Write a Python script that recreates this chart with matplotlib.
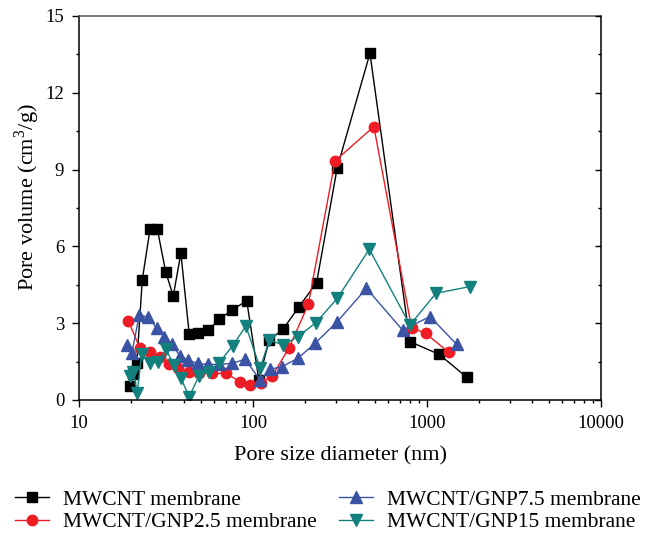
import matplotlib
matplotlib.use("Agg")
import matplotlib.pyplot as plt
from matplotlib.ticker import MultipleLocator, LogLocator, NullFormatter

plt.rcParams['font.family'] = ['Liberation Serif', 'DejaVu Serif']
plt.rcParams['mathtext.fontset'] = 'custom'
plt.rcParams['mathtext.rm'] = 'Liberation Serif'

# MWCNT membrane
x_m = [19.6, 20.5, 21.5, 23.1, 25.6, 28.2, 31.5, 34.8, 38.5, 43, 48.5, 55.4, 64, 76, 92,
       108, 124, 149, 184, 232, 305, 470, 798, 1177, 1690]
y_m = [0.55, 1.0, 1.45, 4.69, 6.67, 6.67, 5.01, 4.06, 5.73, 2.58, 2.63, 2.73, 3.15, 3.52, 3.88,
       0.8, 2.34, 2.77, 3.65, 4.58, 9.08, 13.54, 2.28, 1.78, 0.89]

# MWCNT/GNP2.5 membrane
x_r = [19.2, 22.4, 25.6, 29.2, 33, 37.2, 43, 49.1, 57.9, 70, 84, 96, 111, 129, 161, 208, 296,
       495, 815, 982, 1337]
y_r = [3.10, 2.02, 1.89, 1.69, 1.41, 1.24, 1.11, 1.04, 1.04, 1.04, 0.72, 0.59, 0.68, 0.94, 2.03,
       3.74, 9.34, 10.68, 2.83, 2.60, 1.86]

# MWCNT/GNP7.5 membrane
x_b = [18.8, 20.1, 22.2, 25.0, 28, 30.9, 34.1, 38, 42.4, 48, 54.9, 64, 75.5, 90, 110, 125, 147,
       181, 227, 305, 449, 724, 1040, 1482]
y_b = [2.15, 1.82, 3.32, 3.23, 2.80, 2.47, 2.19, 1.72, 1.56, 1.43, 1.39, 1.39, 1.43, 1.59, 0.78,
       1.20, 1.30, 1.63, 2.21, 3.06, 4.36, 2.73, 3.26, 2.17]

# MWCNT/GNP15 membrane
x_t = [19.6, 20.5, 21.6, 22.9, 25.6, 28.6, 31.6, 35.1, 38.5, 43, 49, 56, 64, 76.4, 91, 110, 124,
       149, 181, 230, 305, 466, 798, 1127, 1766]
y_t = [0.95, 1.11, 0.26, 1.80, 1.43, 1.50, 1.98, 1.37, 0.85, 0.13, 0.95, 1.11, 1.46, 2.12, 2.89,
       1.24, 2.34, 2.15, 2.47, 3.02, 3.97, 5.89, 2.93, 4.17, 4.43]

labels = ["MWCNT membrane", "MWCNT/GNP2.5 membrane", "MWCNT/GNP7.5 membrane", "MWCNT/GNP15 membrane"]
colors = ["#000000", "#ee1c24", "#3a53a4", "#12807c"]
xtick_vals = [10, 100, 1000, 10000]
xtick_labels = ["10", "100", "1000", "10000"]

fig = plt.figure(figsize=(6.48, 5.33), dpi=100)
ax = fig.add_axes([79/648, 1-400/533, (601-79)/648, (400-16)/533])

ax.plot(x_m, y_m, color=colors[0], marker='s', ms=6.5, lw=1.0, label=labels[0])
ax.plot(x_r, y_r, color=colors[1], marker='o', ms=7.5, lw=1.0, label=labels[1])
ax.plot(x_b, y_b, color=colors[2], marker='^', ms=8.5, lw=1.0, label=labels[2])
ax.plot(x_t, y_t, color=colors[3], marker='v', ms=8.5, lw=1.0, label=labels[3])

ax.set_xscale('log')
ax.set_xlim(10, 10000)
ax.set_ylim(0, 15)
ax.yaxis.set_major_locator(MultipleLocator(3))
ax.yaxis.set_minor_locator(MultipleLocator(1.5))
ax.xaxis.set_minor_locator(LogLocator(base=10, subs=range(2, 10)))
ax.xaxis.set_minor_formatter(NullFormatter())
ax.set_xticks(xtick_vals)
ax.set_xticklabels(xtick_labels)

ax.tick_params(axis='both', which='both', direction='out', labelsize=13.5, width=1.0)
ax.tick_params(axis='both', which='major', length=5.2, pad=5.5)
ax.tick_params(axis='both', which='minor', length=2.2)
for s in ax.spines.values():
    s.set_linewidth(1.1)
ax.spines['top'].set_color('#555555')

# inward ticks on the right spine
axr = ax.twinx()
axr.set_ylim(ax.get_ylim())
axr.yaxis.set_major_locator(MultipleLocator(3))
axr.yaxis.set_minor_locator(MultipleLocator(1.5))
axr.tick_params(axis='y', which='both', direction='in', labelright=False, width=1.0)
axr.tick_params(axis='y', which='major', length=4)
axr.tick_params(axis='y', which='minor', length=2.2)
for s in axr.spines.values():
    s.set_visible(False)

ax.set_xlabel("Pore size diameter (nm)", fontsize=16)
ax.xaxis.set_label_coords(0.5, (400-456)/384)
ax.xaxis.label.set_va('center')
ax.set_ylabel("Pore volume (cm$^3$/g)", fontsize=16)
ax.yaxis.set_label_coords((27-79)/522, (400-197)/384)
ax.yaxis.label.set_va('center')

fig.legend(handles=ax.get_lines(), labels=labels, loc='center',
           bbox_to_anchor=(328/648, 1-511/533), ncol=2, frameon=False,
           fontsize=15.5, handlelength=1.6, columnspacing=1.0, labelspacing=0.12,
           handletextpad=0.65, borderpad=0.0)

fig.savefig("out.png", dpi=100)
